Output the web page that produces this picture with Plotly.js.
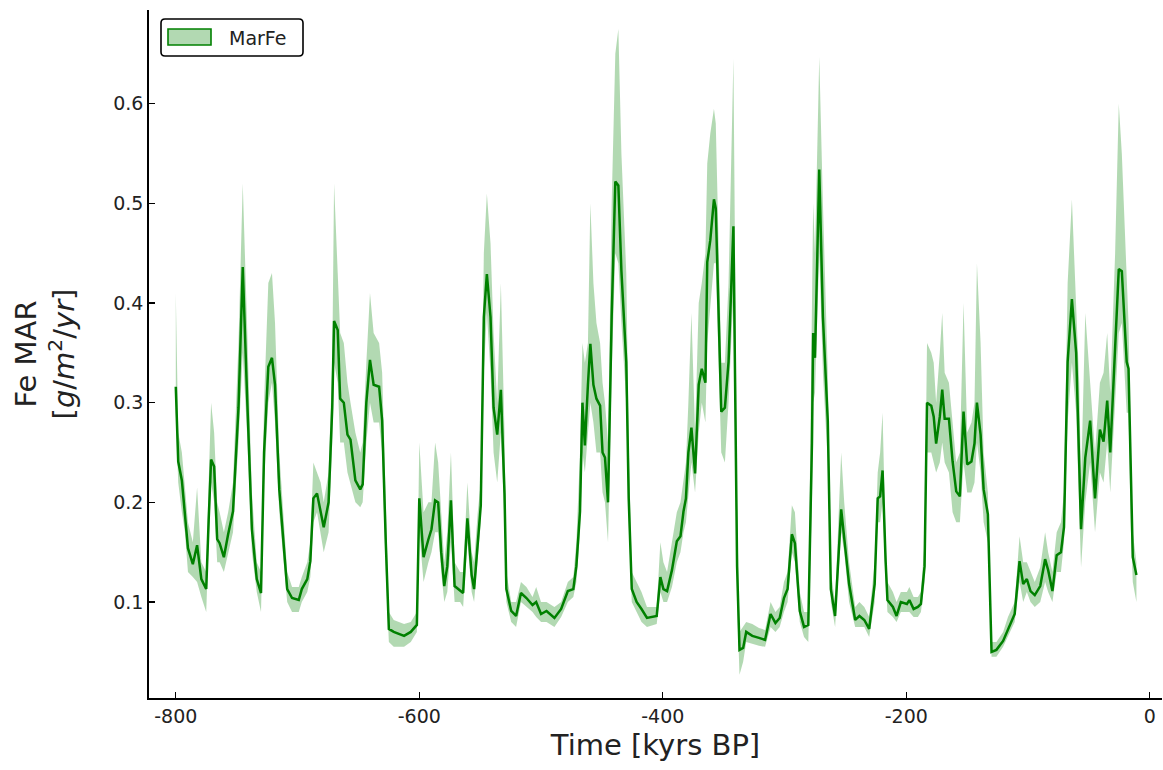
<!DOCTYPE html>
<html>
<head>
<meta charset="utf-8">
<script src="https://cdn.plot.ly/plotly-3.0.1.min.js"></script>
<style>html,body{margin:0;padding:0;background:#fff;}#chart{width:1163px;height:770px;}</style>
</head>
<body>
<div id="chart"></div>
<script>
// time [kyrs BP]
const time = [-800,-798,-795,-792.5,-790,-786,-782.5,-779,-775,-773,-771,-768.5,-766,-764,-760.5,-757,-753,-748.5,-745,-741.5,-737.5,-733.5,-730,-727.5,-724,-721,-718.5,-715,-711.5,-708.5,-704.5,-699,-696.5,-692,-689.5,-687,-684,-681,-678.5,-674.5,-671.5,-670,-667,-665,-662,-659,-656.5,-652.5,-648.5,-646.5,-643.5,-640.5,-637.5,-633,-630.5,-627.5,-625,-621,-612.5,-607,-602,-600,-596.5,-592.5,-590,-587,-584.5,-582,-579.5,-577,-574,-571,-566.5,-564,-560.5,-557,-555,-552,-549.5,-547,-544.5,-541.5,-539,-536,-533,-530,-528.5,-524.5,-520.5,-516.5,-512,-507,-504,-500,-495.5,-489,-483.5,-478,-473.5,-471,-468,-466,-464,-461.5,-459.5,-457,-454.5,-451.5,-449.5,-447.5,-445,-442,-439,-436.5,-434,-430,-428,-425.5,-421.5,-417.5,-413,-405,-402,-399.5,-396.5,-392.5,-388.5,-385.5,-383,-381,-379,-376.5,-373.5,-370.5,-368,-365,-363.5,-361,-358,-356.5,-354,-352,-349,-346,-342,-340.5,-339,-337,-334,-331.5,-326.5,-321,-316,-311.5,-307.5,-304,-300.5,-297.5,-294,-291.5,-287.5,-284,-280.5,-277.5,-276.5,-275,-271.5,-268.5,-264.5,-262,-258.5,-253.5,-251,-247,-242,-238.5,-234.5,-230.5,-226,-223.5,-221.5,-219.5,-217,-215.5,-211,-208,-204.5,-199.5,-197.5,-194,-190.5,-188,-185,-183,-179.5,-177.5,-175.5,-172.5,-170.5,-168.5,-165,-162,-159,-156,-153,-150,-146.5,-144,-142,-139,-136.5,-133,-130,-126,-120.5,-116.5,-111,-107,-104,-101,-98,-94.5,-90,-86,-83.5,-80,-76.5,-73,-70.5,-67.5,-64,-60.5,-58,-56.5,-53,-49,-45,-41,-38,-35,-32.5,-28.5,-25.5,-23,-19,-17.5,-15.5,-14,-11];
// mean Fe MAR
const marfeMean = [0.316,0.241,0.222,0.186,0.154,0.138,0.157,0.123,0.113,0.182,0.243,0.236,0.163,0.159,0.145,0.168,0.191,0.295,0.436,0.309,0.173,0.123,0.109,0.250,0.336,0.345,0.318,0.213,0.163,0.113,0.104,0.102,0.113,0.123,0.141,0.204,0.209,0.191,0.175,0.200,0.295,0.382,0.373,0.304,0.300,0.268,0.263,0.222,0.213,0.218,0.300,0.343,0.318,0.316,0.282,0.159,0.073,0.070,0.066,0.070,0.077,0.204,0.145,0.163,0.173,0.202,0.200,0.150,0.116,0.136,0.202,0.116,0.111,0.109,0.184,0.127,0.113,0.159,0.197,0.386,0.429,0.386,0.295,0.268,0.313,0.209,0.113,0.091,0.086,0.109,0.104,0.097,0.100,0.088,0.091,0.084,0.093,0.111,0.113,0.136,0.191,0.300,0.257,0.318,0.359,0.318,0.304,0.297,0.250,0.245,0.200,0.386,0.522,0.518,0.432,0.341,0.204,0.113,0.100,0.093,0.084,0.086,0.125,0.113,0.111,0.132,0.161,0.166,0.191,0.204,0.250,0.275,0.229,0.318,0.334,0.320,0.441,0.463,0.504,0.495,0.377,0.291,0.295,0.341,0.477,0.295,0.136,0.052,0.054,0.070,0.066,0.064,0.062,0.088,0.079,0.084,0.104,0.113,0.168,0.159,0.091,0.075,0.077,0.259,0.370,0.345,0.534,0.386,0.282,0.113,0.086,0.193,0.166,0.118,0.082,0.086,0.082,0.073,0.118,0.204,0.206,0.232,0.141,0.102,0.095,0.086,0.100,0.098,0.102,0.093,0.095,0.098,0.136,0.300,0.297,0.286,0.259,0.286,0.313,0.284,0.284,0.241,0.211,0.206,0.291,0.238,0.241,0.259,0.300,0.268,0.213,0.188,0.050,0.052,0.061,0.073,0.088,0.141,0.118,0.123,0.111,0.107,0.116,0.143,0.132,0.111,0.147,0.150,0.175,0.341,0.404,0.350,0.250,0.173,0.245,0.282,0.204,0.273,0.261,0.302,0.250,0.350,0.434,0.432,0.341,0.334,0.204,0.145,0.127];
// lower bound of uncertainty band
const marfeLower = [0.29,0.22,0.19,0.17,0.13,0.125,0.12,0.105,0.09,0.16,0.22,0.20,0.14,0.14,0.13,0.15,0.17,0.26,0.35,0.27,0.15,0.11,0.09,0.22,0.30,0.32,0.28,0.19,0.14,0.10,0.09,0.09,0.10,0.11,0.125,0.18,0.19,0.17,0.15,0.17,0.26,0.34,0.32,0.26,0.26,0.23,0.22,0.20,0.195,0.20,0.26,0.30,0.28,0.28,0.25,0.13,0.06,0.055,0.055,0.06,0.07,0.17,0.12,0.14,0.15,0.17,0.17,0.13,0.10,0.11,0.16,0.10,0.10,0.095,0.16,0.11,0.10,0.14,0.18,0.33,0.39,0.33,0.25,0.22,0.27,0.18,0.10,0.08,0.075,0.10,0.095,0.09,0.085,0.08,0.08,0.075,0.085,0.10,0.105,0.12,0.17,0.25,0.23,0.27,0.30,0.28,0.25,0.25,0.21,0.20,0.16,0.33,0.45,0.44,0.38,0.30,0.18,0.10,0.09,0.08,0.075,0.078,0.11,0.10,0.10,0.115,0.14,0.15,0.17,0.18,0.21,0.24,0.21,0.27,0.30,0.28,0.36,0.40,0.44,0.44,0.33,0.25,0.24,0.30,0.41,0.25,0.10,0.027,0.04,0.06,0.058,0.056,0.055,0.075,0.07,0.075,0.09,0.10,0.15,0.14,0.08,0.065,0.06,0.20,0.30,0.31,0.45,0.33,0.24,0.10,0.075,0.17,0.15,0.10,0.075,0.075,0.075,0.065,0.10,0.18,0.18,0.20,0.12,0.09,0.085,0.08,0.09,0.09,0.09,0.085,0.085,0.09,0.12,0.25,0.25,0.24,0.23,0.24,0.26,0.24,0.23,0.19,0.18,0.18,0.24,0.21,0.21,0.22,0.26,0.23,0.18,0.16,0.045,0.045,0.055,0.065,0.08,0.12,0.10,0.11,0.10,0.095,0.10,0.12,0.11,0.10,0.13,0.13,0.16,0.28,0.34,0.29,0.20,0.135,0.20,0.24,0.17,0.23,0.22,0.26,0.21,0.30,0.37,0.38,0.29,0.29,0.17,0.12,0.10];
// upper bound of uncertainty band
const marfeUpper = [0.41,0.27,0.25,0.215,0.18,0.16,0.215,0.14,0.13,0.22,0.30,0.27,0.20,0.19,0.17,0.19,0.22,0.36,0.52,0.38,0.21,0.14,0.13,0.30,0.42,0.43,0.38,0.25,0.19,0.13,0.115,0.115,0.125,0.14,0.16,0.24,0.23,0.22,0.20,0.23,0.34,0.52,0.43,0.37,0.36,0.32,0.30,0.27,0.25,0.26,0.34,0.41,0.37,0.36,0.33,0.19,0.09,0.082,0.078,0.08,0.09,0.26,0.19,0.20,0.20,0.26,0.24,0.19,0.14,0.17,0.25,0.14,0.13,0.13,0.22,0.15,0.14,0.19,0.22,0.45,0.51,0.46,0.37,0.30,0.42,0.27,0.13,0.10,0.10,0.12,0.115,0.105,0.115,0.10,0.10,0.095,0.10,0.12,0.125,0.16,0.25,0.36,0.34,0.36,0.50,0.42,0.38,0.36,0.32,0.30,0.26,0.50,0.65,0.675,0.55,0.43,0.26,0.13,0.12,0.11,0.095,0.095,0.16,0.14,0.13,0.16,0.19,0.20,0.22,0.24,0.30,0.39,0.27,0.40,0.42,0.45,0.54,0.57,0.595,0.58,0.45,0.34,0.34,0.42,0.645,0.40,0.20,0.07,0.075,0.08,0.078,0.074,0.072,0.10,0.09,0.095,0.12,0.13,0.197,0.19,0.11,0.09,0.09,0.42,0.50,0.45,0.647,0.50,0.33,0.13,0.10,0.25,0.20,0.14,0.095,0.10,0.095,0.085,0.14,0.23,0.25,0.29,0.16,0.12,0.11,0.10,0.11,0.11,0.115,0.105,0.105,0.11,0.16,0.36,0.35,0.34,0.30,0.35,0.39,0.33,0.32,0.28,0.24,0.25,0.40,0.27,0.28,0.30,0.44,0.36,0.25,0.21,0.06,0.06,0.07,0.085,0.10,0.166,0.14,0.14,0.13,0.12,0.135,0.17,0.15,0.13,0.17,0.18,0.21,0.42,0.504,0.40,0.32,0.22,0.39,0.32,0.25,0.32,0.33,0.37,0.31,0.45,0.60,0.55,0.42,0.38,0.25,0.17,0.14];

const seriesName = 'MarFe';
const fillCol = 'rgba(0,128,0,0.3)';
const lineCol = 'rgb(0,128,0)';

const bandX = time.concat(time.slice().reverse());
const bandY = marfeUpper.concat(marfeLower.slice().reverse());

const traces = [
  {x: bandX, y: bandY, type: 'scatter', mode: 'lines', fill: 'toself',
   fillcolor: fillCol, line: {width: 0, color: fillCol}, showlegend: false, hoverinfo: 'skip', name: seriesName},
  {x: time, y: marfeMean, type: 'scatter', mode: 'lines',
   line: {color: lineCol, width: 2.5}, showlegend: false, name: seriesName}
];

// custom legend box (paper coordinates, plot area is 1013 x 688 px)
const W = 1013, H = 688;
function px2x(p) { return (p - 149) / W; }
function px2y(p) { return (698 - p) / H; }
function roundRect(x0p, y0p, x1p, y1p, r) {
  const x0 = px2x(x0p), x1 = px2x(x1p), yt = px2y(y0p), yb = px2y(y1p);
  const rx = r / W, ry = r / H;
  return `M${x0+rx},${yt} L${x1-rx},${yt} Q${x1},${yt} ${x1},${yt-ry} L${x1},${yb+ry} Q${x1},${yb} ${x1-rx},${yb} ` +
         `L${x0+rx},${yb} Q${x0},${yb} ${x0},${yb+ry} L${x0},${yt-ry} Q${x0},${yt} ${x0+rx},${yt} Z`;
}
const shapes = [
  {type: 'path', xref: 'paper', yref: 'paper', path: roundRect(161, 19, 303, 56, 4),
   fillcolor: '#fff', line: {color: '#000', width: 1.6}, layer: 'above'},
  {type: 'rect', xref: 'paper', yref: 'paper', x0: px2x(168), x1: px2x(211), y0: px2y(45), y1: px2y(29),
   fillcolor: fillCol, line: {color: lineCol, width: 1.6}, layer: 'above'}
];

const font = 'DejaVu Sans, sans-serif';
const annotations = [
  {xref: 'paper', yref: 'paper', x: px2x(227), y: px2y(37.5), xanchor: 'left', yanchor: 'middle',
   text: seriesName, showarrow: false, font: {family: font, size: 19, color: '#222'}}
];

const layout = {
  width: 1163, height: 770,
  margin: {l: 149, r: 1, t: 10, b: 72},
  paper_bgcolor: '#fff', plot_bgcolor: '#fff',
  font: {family: font, color: '#222', size: 19},
  showlegend: false,
  shapes: shapes,
  annotations: annotations,
  xaxis: {range: [-822, 10], tickvals: [-800, -600, -400, -200, 0],
          ticktext: ['-800', '-600', '-400', '-200', '0'],
          showgrid: false, zeroline: false, showline: true, linecolor: '#000', linewidth: 1.8,
          ticks: 'inside', ticklen: 6, tickcolor: '#000', tickwidth: 1.2,
          tickfont: {family: font, size: 19, color: '#222'},
          title: {text: 'Time [kyrs BP]', font: {family: font, size: 29, color: '#222'}, standoff: 9}},
  yaxis: {range: [0.0037, 0.694], tickvals: [0.1, 0.2, 0.3, 0.4, 0.5, 0.6],
          showgrid: false, zeroline: false, showline: true, linecolor: '#000', linewidth: 1.8,
          ticks: 'inside', ticklen: 6, tickcolor: '#000', tickwidth: 1.2,
          tickfont: {family: font, size: 19, color: '#222'},
          title: {text: 'Fe MAR<br>[<i>g</i>/<i>m</i><sup>2</sup>/<i>yr</i>]',
                  font: {family: font, size: 29, color: '#222'}, standoff: 30}}
};

Plotly.newPlot('chart', traces, layout, {displayModeBar: false, staticPlot: true});
</script>
</body>
</html>
